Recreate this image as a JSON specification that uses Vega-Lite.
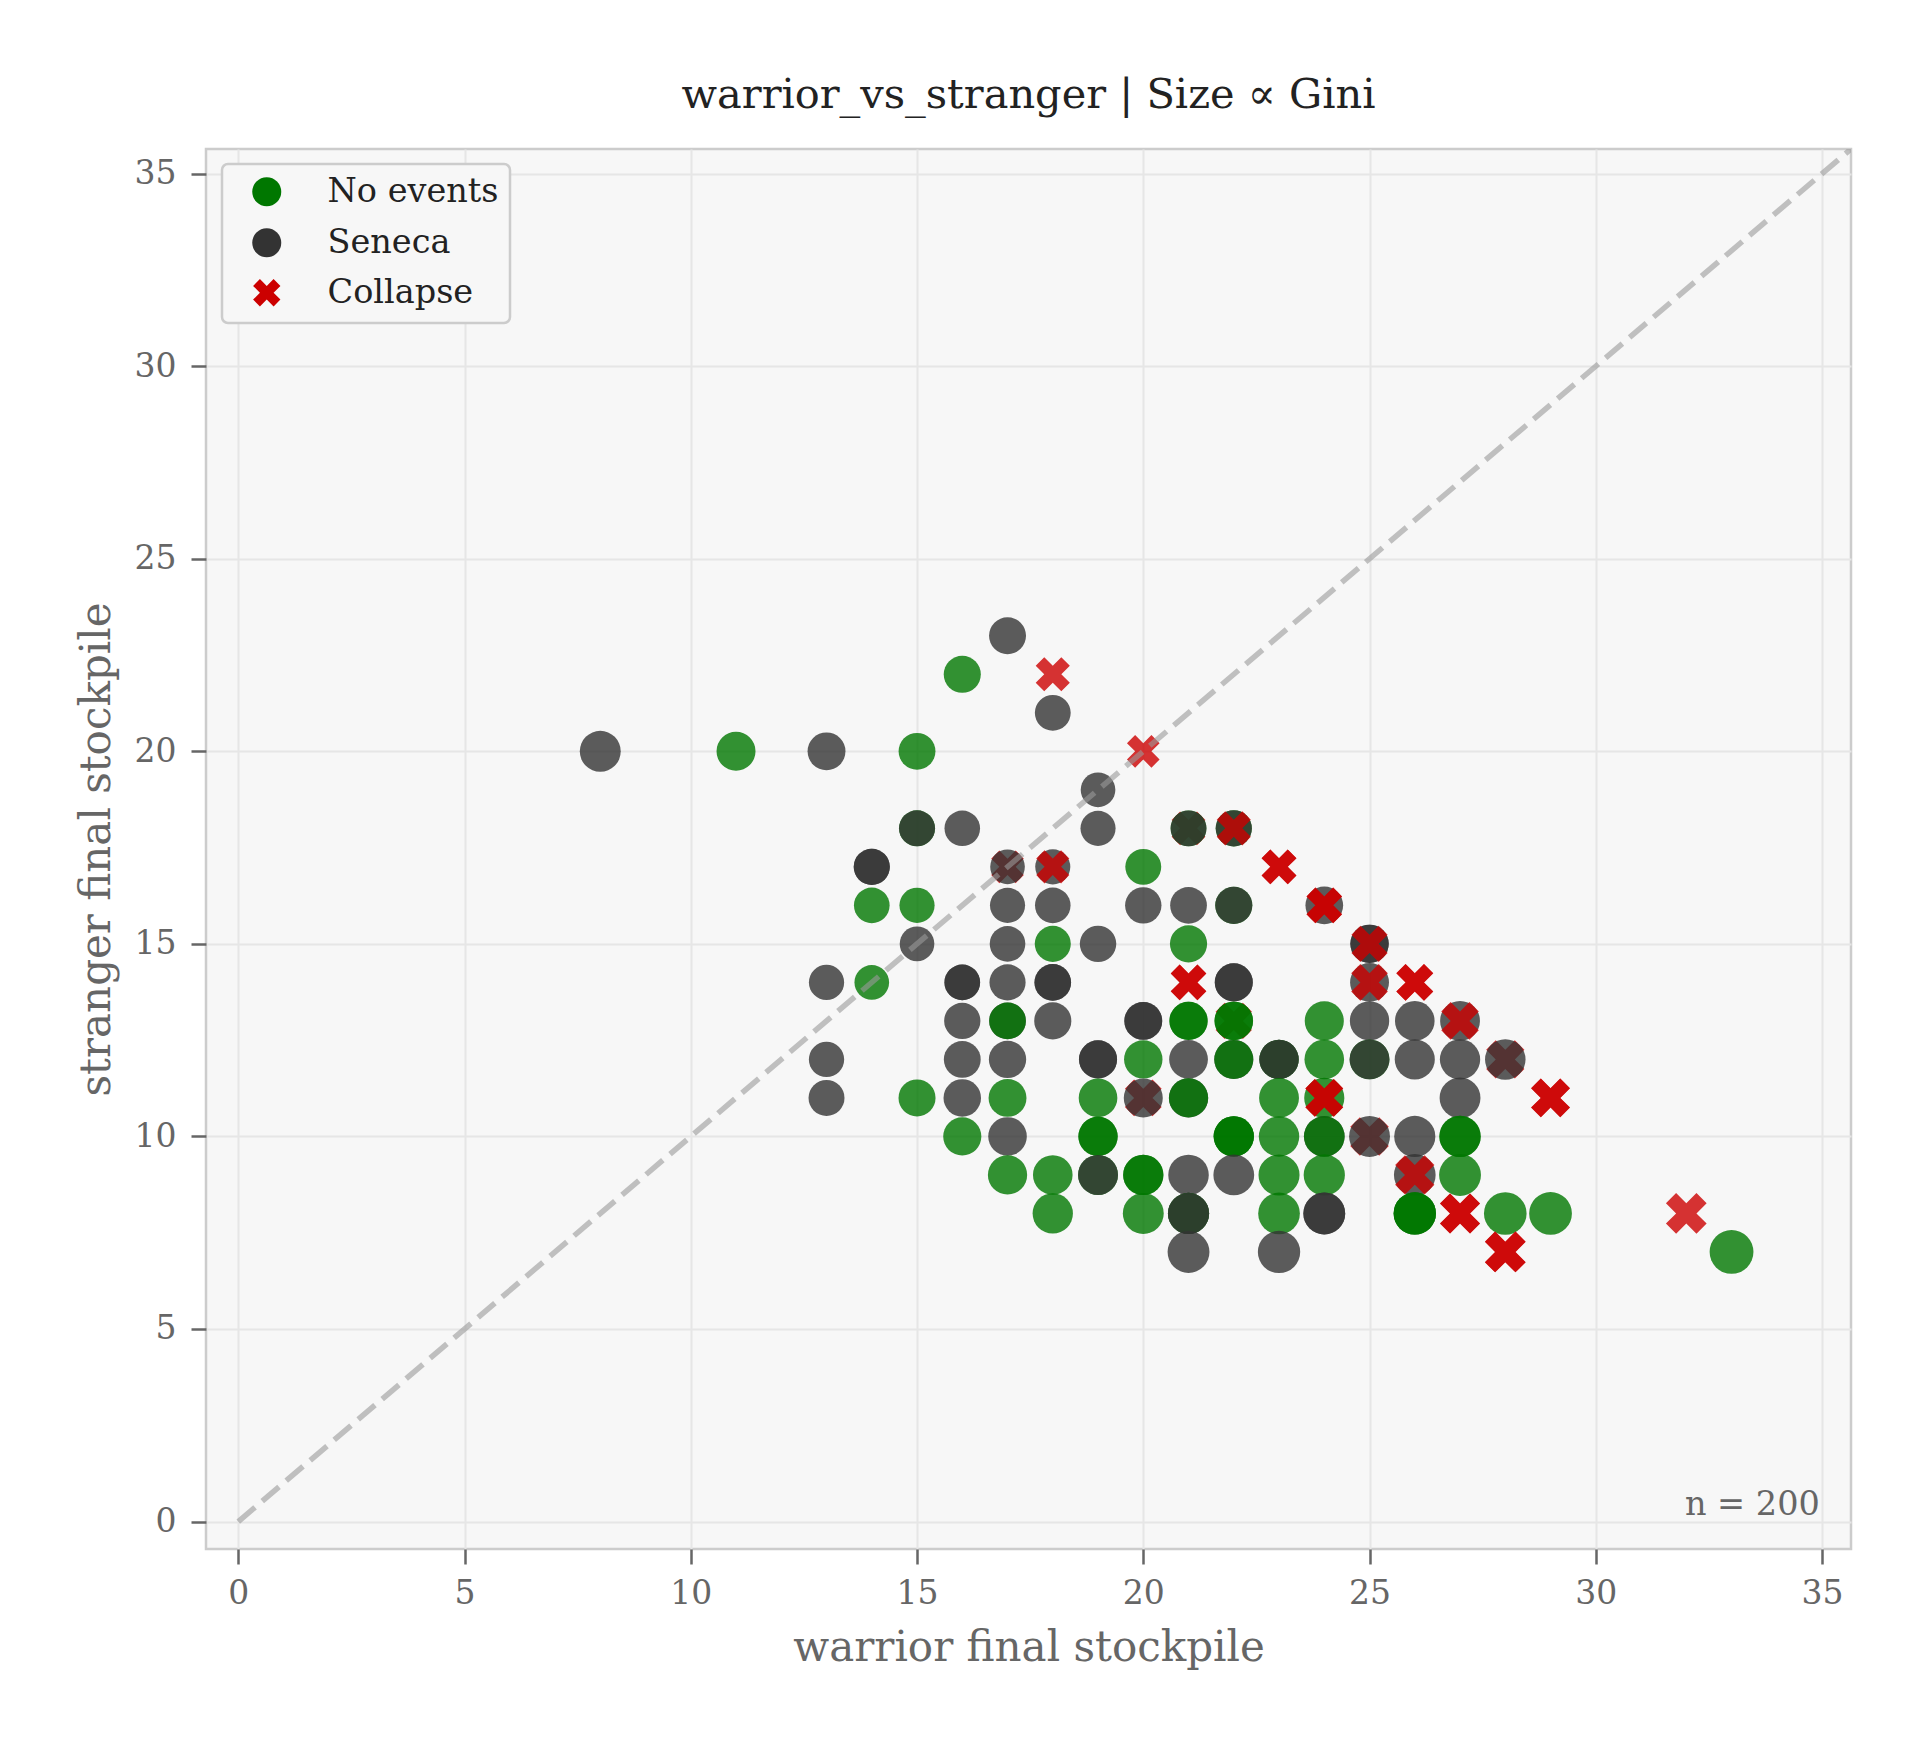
{
  "$schema": "https://vega.github.io/schema/vega-lite/v6.json",
  "autosize": {"type": "none"},
  "width": 1645,
  "height": 1400,
  "padding": {"left": 206, "top": 149, "right": 73, "bottom": 195},
  "background": "white",
  "title": {
    "text": "warrior_vs_stranger | Size ∝ Gini",
    "font": "DejaVu Serif", "fontSize": 41.5, "fontWeight": "normal", "color": "#222222",
    "anchor": "middle", "frame": "group", "baseline": "alphabetic", "offset": 0
  },
  "datasets": {
    "pts": [
      {"w": 8, "s": 20, "e": "Seneca", "g": 0.214},
      {"w": 11, "s": 20, "e": "No events", "g": 0.145},
      {"w": 13, "s": 20, "e": "Seneca", "g": 0.106},
      {"w": 15, "s": 20, "e": "No events", "g": 0.071},
      {"w": 16, "s": 22, "e": "No events", "g": 0.079},
      {"w": 17, "s": 23, "e": "Seneca", "g": 0.075},
      {"w": 18, "s": 22, "e": "Collapse", "g": 0.05},
      {"w": 18, "s": 21, "e": "Seneca", "g": 0.038},
      {"w": 20, "s": 20, "e": "Collapse", "g": 0.0},
      {"w": 19, "s": 19, "e": "Seneca", "g": 0.0},
      {"w": 15, "s": 18, "e": "No events", "g": 0.045},
      {"w": 15, "s": 18, "e": "Seneca", "g": 0.045},
      {"w": 16, "s": 18, "e": "Seneca", "g": 0.029},
      {"w": 19, "s": 18, "e": "Seneca", "g": 0.014},
      {"w": 21, "s": 18, "e": "Collapse", "g": 0.038},
      {"w": 21, "s": 18, "e": "No events", "g": 0.038},
      {"w": 21, "s": 18, "e": "Seneca", "g": 0.038},
      {"w": 22, "s": 18, "e": "No events", "g": 0.05},
      {"w": 22, "s": 18, "e": "Seneca", "g": 0.05},
      {"w": 22, "s": 18, "e": "Collapse", "g": 0.05},
      {"w": 14, "s": 17, "e": "Seneca", "g": 0.048},
      {"w": 14, "s": 17, "e": "Seneca", "g": 0.048},
      {"w": 17, "s": 17, "e": "Collapse", "g": 0.0},
      {"w": 17, "s": 17, "e": "Seneca", "g": 0.0},
      {"w": 18, "s": 17, "e": "Seneca", "g": 0.014},
      {"w": 18, "s": 17, "e": "Collapse", "g": 0.014},
      {"w": 20, "s": 17, "e": "No events", "g": 0.041},
      {"w": 23, "s": 17, "e": "Collapse", "g": 0.075},
      {"w": 23, "s": 17, "e": "Collapse", "g": 0.075},
      {"w": 14, "s": 16, "e": "No events", "g": 0.033},
      {"w": 15, "s": 16, "e": "No events", "g": 0.016},
      {"w": 17, "s": 16, "e": "Seneca", "g": 0.015},
      {"w": 18, "s": 16, "e": "Seneca", "g": 0.029},
      {"w": 20, "s": 16, "e": "Seneca", "g": 0.056},
      {"w": 21, "s": 16, "e": "Seneca", "g": 0.068},
      {"w": 22, "s": 16, "e": "No events", "g": 0.079},
      {"w": 22, "s": 16, "e": "Seneca", "g": 0.079},
      {"w": 24, "s": 16, "e": "Seneca", "g": 0.1},
      {"w": 24, "s": 16, "e": "Collapse", "g": 0.1},
      {"w": 24, "s": 16, "e": "Collapse", "g": 0.1},
      {"w": 15, "s": 15, "e": "Seneca", "g": 0.0},
      {"w": 17, "s": 15, "e": "Seneca", "g": 0.031},
      {"w": 18, "s": 15, "e": "No events", "g": 0.045},
      {"w": 19, "s": 15, "e": "Seneca", "g": 0.059},
      {"w": 21, "s": 15, "e": "No events", "g": 0.083},
      {"w": 25, "s": 15, "e": "Seneca", "g": 0.125},
      {"w": 25, "s": 15, "e": "Seneca", "g": 0.125},
      {"w": 25, "s": 15, "e": "Collapse", "g": 0.125},
      {"w": 13, "s": 14, "e": "Seneca", "g": 0.019},
      {"w": 14, "s": 14, "e": "No events", "g": 0.0},
      {"w": 16, "s": 14, "e": "Seneca", "g": 0.033},
      {"w": 16, "s": 14, "e": "Seneca", "g": 0.033},
      {"w": 17, "s": 14, "e": "Seneca", "g": 0.048},
      {"w": 18, "s": 14, "e": "Seneca", "g": 0.063},
      {"w": 18, "s": 14, "e": "Seneca", "g": 0.063},
      {"w": 21, "s": 14, "e": "Collapse", "g": 0.1},
      {"w": 21, "s": 14, "e": "Collapse", "g": 0.1},
      {"w": 22, "s": 14, "e": "Seneca", "g": 0.111},
      {"w": 22, "s": 14, "e": "Seneca", "g": 0.111},
      {"w": 25, "s": 14, "e": "Seneca", "g": 0.141},
      {"w": 25, "s": 14, "e": "Collapse", "g": 0.141},
      {"w": 26, "s": 14, "e": "Collapse", "g": 0.15},
      {"w": 26, "s": 14, "e": "Collapse", "g": 0.15},
      {"w": 16, "s": 13, "e": "Seneca", "g": 0.052},
      {"w": 17, "s": 13, "e": "Seneca", "g": 0.067},
      {"w": 17, "s": 13, "e": "No events", "g": 0.067},
      {"w": 18, "s": 13, "e": "Seneca", "g": 0.081},
      {"w": 20, "s": 13, "e": "Seneca", "g": 0.106},
      {"w": 20, "s": 13, "e": "Seneca", "g": 0.106},
      {"w": 21, "s": 13, "e": "No events", "g": 0.118},
      {"w": 21, "s": 13, "e": "No events", "g": 0.118},
      {"w": 22, "s": 13, "e": "Collapse", "g": 0.129},
      {"w": 22, "s": 13, "e": "No events", "g": 0.129},
      {"w": 22, "s": 13, "e": "No events", "g": 0.129},
      {"w": 24, "s": 13, "e": "No events", "g": 0.149},
      {"w": 25, "s": 13, "e": "Seneca", "g": 0.158},
      {"w": 26, "s": 13, "e": "Seneca", "g": 0.167},
      {"w": 27, "s": 13, "e": "Seneca", "g": 0.175},
      {"w": 27, "s": 13, "e": "Collapse", "g": 0.175},
      {"w": 13, "s": 12, "e": "Seneca", "g": 0.02},
      {"w": 16, "s": 12, "e": "Seneca", "g": 0.071},
      {"w": 17, "s": 12, "e": "Seneca", "g": 0.086},
      {"w": 19, "s": 12, "e": "Seneca", "g": 0.113},
      {"w": 19, "s": 12, "e": "Seneca", "g": 0.113},
      {"w": 20, "s": 12, "e": "No events", "g": 0.125},
      {"w": 21, "s": 12, "e": "Seneca", "g": 0.136},
      {"w": 22, "s": 12, "e": "Seneca", "g": 0.147},
      {"w": 22, "s": 12, "e": "No events", "g": 0.147},
      {"w": 23, "s": 12, "e": "Seneca", "g": 0.157},
      {"w": 23, "s": 12, "e": "No events", "g": 0.157},
      {"w": 23, "s": 12, "e": "Seneca", "g": 0.157},
      {"w": 24, "s": 12, "e": "No events", "g": 0.167},
      {"w": 25, "s": 12, "e": "No events", "g": 0.176},
      {"w": 25, "s": 12, "e": "Seneca", "g": 0.176},
      {"w": 26, "s": 12, "e": "Seneca", "g": 0.184},
      {"w": 27, "s": 12, "e": "Seneca", "g": 0.192},
      {"w": 28, "s": 12, "e": "Collapse", "g": 0.2},
      {"w": 28, "s": 12, "e": "Seneca", "g": 0.2},
      {"w": 13, "s": 11, "e": "Seneca", "g": 0.042},
      {"w": 15, "s": 11, "e": "No events", "g": 0.077},
      {"w": 16, "s": 11, "e": "Seneca", "g": 0.093},
      {"w": 17, "s": 11, "e": "No events", "g": 0.107},
      {"w": 19, "s": 11, "e": "No events", "g": 0.133},
      {"w": 20, "s": 11, "e": "Collapse", "g": 0.145},
      {"w": 20, "s": 11, "e": "Seneca", "g": 0.145},
      {"w": 21, "s": 11, "e": "Seneca", "g": 0.156},
      {"w": 21, "s": 11, "e": "No events", "g": 0.156},
      {"w": 23, "s": 11, "e": "No events", "g": 0.176},
      {"w": 24, "s": 11, "e": "No events", "g": 0.186},
      {"w": 24, "s": 11, "e": "Collapse", "g": 0.186},
      {"w": 24, "s": 11, "e": "Collapse", "g": 0.186},
      {"w": 27, "s": 11, "e": "Seneca", "g": 0.211},
      {"w": 29, "s": 11, "e": "Collapse", "g": 0.225},
      {"w": 29, "s": 11, "e": "Collapse", "g": 0.225},
      {"w": 16, "s": 10, "e": "No events", "g": 0.115},
      {"w": 17, "s": 10, "e": "Seneca", "g": 0.13},
      {"w": 19, "s": 10, "e": "No events", "g": 0.155},
      {"w": 19, "s": 10, "e": "No events", "g": 0.155},
      {"w": 22, "s": 10, "e": "No events", "g": 0.188},
      {"w": 22, "s": 10, "e": "No events", "g": 0.188},
      {"w": 22, "s": 10, "e": "No events", "g": 0.188},
      {"w": 23, "s": 10, "e": "No events", "g": 0.197},
      {"w": 24, "s": 10, "e": "Seneca", "g": 0.206},
      {"w": 24, "s": 10, "e": "No events", "g": 0.206},
      {"w": 25, "s": 10, "e": "Collapse", "g": 0.214},
      {"w": 25, "s": 10, "e": "Seneca", "g": 0.214},
      {"w": 26, "s": 10, "e": "Seneca", "g": 0.222},
      {"w": 27, "s": 10, "e": "No events", "g": 0.23},
      {"w": 27, "s": 10, "e": "No events", "g": 0.23},
      {"w": 17, "s": 9, "e": "No events", "g": 0.154},
      {"w": 18, "s": 9, "e": "No events", "g": 0.167},
      {"w": 19, "s": 9, "e": "No events", "g": 0.179},
      {"w": 19, "s": 9, "e": "Seneca", "g": 0.179},
      {"w": 20, "s": 9, "e": "No events", "g": 0.19},
      {"w": 20, "s": 9, "e": "No events", "g": 0.19},
      {"w": 21, "s": 9, "e": "Seneca", "g": 0.2},
      {"w": 22, "s": 9, "e": "Seneca", "g": 0.21},
      {"w": 23, "s": 9, "e": "No events", "g": 0.219},
      {"w": 24, "s": 9, "e": "No events", "g": 0.227},
      {"w": 26, "s": 9, "e": "Seneca", "g": 0.243},
      {"w": 26, "s": 9, "e": "Collapse", "g": 0.243},
      {"w": 27, "s": 9, "e": "No events", "g": 0.25},
      {"w": 18, "s": 8, "e": "No events", "g": 0.192},
      {"w": 20, "s": 8, "e": "No events", "g": 0.214},
      {"w": 21, "s": 8, "e": "Seneca", "g": 0.224},
      {"w": 21, "s": 8, "e": "No events", "g": 0.224},
      {"w": 21, "s": 8, "e": "Seneca", "g": 0.224},
      {"w": 23, "s": 8, "e": "No events", "g": 0.242},
      {"w": 24, "s": 8, "e": "Seneca", "g": 0.25},
      {"w": 24, "s": 8, "e": "Seneca", "g": 0.25},
      {"w": 26, "s": 8, "e": "No events", "g": 0.265},
      {"w": 26, "s": 8, "e": "No events", "g": 0.265},
      {"w": 26, "s": 8, "e": "No events", "g": 0.265},
      {"w": 27, "s": 8, "e": "Collapse", "g": 0.271},
      {"w": 27, "s": 8, "e": "Collapse", "g": 0.271},
      {"w": 28, "s": 8, "e": "No events", "g": 0.278},
      {"w": 29, "s": 8, "e": "No events", "g": 0.284},
      {"w": 32, "s": 8, "e": "Collapse", "g": 0.3},
      {"w": 21, "s": 7, "e": "Seneca", "g": 0.25},
      {"w": 23, "s": 7, "e": "Seneca", "g": 0.267},
      {"w": 28, "s": 7, "e": "Collapse", "g": 0.3},
      {"w": 28, "s": 7, "e": "Collapse", "g": 0.3},
      {"w": 33, "s": 7, "e": "No events", "g": 0.325}
    ],
    "diag": [
      {"w": 0, "s": 0},
      {"w": 35.64, "s": 35.64}
    ],
    "note": [
      {"w": 34.95, "s": 0.16, "t": "n = 200"}
    ]
  },
  "layer": [
    {
      "data": {"name": "pts"},
      "mark": {"type": "point", "filled": true, "opacity": 0.8, "strokeWidth": 0},
      "encoding": {
        "x": {
          "field": "w", "type": "quantitative",
          "scale": {"domain": [-0.713, 35.64], "nice": false, "zero": false},
          "axis": {"title": "warrior final stockpile", "values": [0, 5, 10, 15, 20, 25, 30, 35]}
        },
        "y": {
          "field": "s", "type": "quantitative",
          "scale": {"domain": [-0.713, 35.64], "nice": false, "zero": false},
          "axis": {"title": "stranger final stockpile", "values": [0, 5, 10, 15, 20, 25, 30, 35]}
        },
        "color": {
          "field": "e", "type": "nominal",
          "scale": {"domain": ["No events", "Seneca", "Collapse"], "range": ["#007700", "#333333", "#cc0000"]},
          "legend": {"title": null, "orient": "none", "legendX": 16, "legendY": 15}
        },
        "shape": {
          "field": "e", "type": "nominal",
          "scale": {
            "domain": ["No events", "Seneca", "Collapse"],
            "range": ["circle", "circle", "M0.471,-0.943L0.943,-0.471L0.471,0L0.943,0.471L0.471,0.943L0,0.471L-0.471,0.943L-0.943,0.471L-0.471,0L-0.943,-0.471L-0.471,-0.943L0,-0.471Z"]
          },
          "legend": {"title": null, "orient": "none", "legendX": 16, "legendY": 15}
        },
        "size": {
          "field": "g", "type": "quantitative",
          "scale": {"domain": [0, 0.33], "range": [1200, 1930]},
          "legend": null
        }
      }
    },
    {
      "data": {"name": "diag"},
      "mark": {"type": "line", "color": "#999999", "opacity": 0.6, "strokeWidth": 5.5, "strokeDash": [22, 9.5], "clip": true},
      "encoding": {
        "x": {"field": "w", "type": "quantitative"},
        "y": {"field": "s", "type": "quantitative"}
      }
    },
    {
      "data": {"name": "note"},
      "mark": {"type": "text", "align": "right", "baseline": "alphabetic", "font": "DejaVu Serif", "fontSize": 33.5, "color": "#666666"},
      "encoding": {
        "x": {"field": "w", "type": "quantitative"},
        "y": {"field": "s", "type": "quantitative"},
        "text": {"field": "t"}
      }
    }
  ],
  "config": {
    "view": {"fill": "#f7f7f7", "stroke": "#cccccc", "strokeWidth": 2.5},
    "axis": {
      "domain": false, "grid": true, "gridColor": "#e6e6e6", "gridWidth": 2,
      "tickColor": "#666666", "tickSize": 15, "tickWidth": 2.5,
      "labelFont": "DejaVu Serif", "labelFontSize": 33, "labelColor": "#666666",
      "labelFlush": false, "labelOverlap": false, "labelBound": false,
      "titleFont": "DejaVu Serif", "titleFontSize": 42, "titleColor": "#666666", "titleFontWeight": "normal"
    },
    "axisX": {"labelBaseline": "alphabetic", "labelPadding": 39, "titleBaseline": "alphabetic", "titleY": 111},
    "axisY": {"labelPadding": 15, "titleAngle": -90, "titleBaseline": "alphabetic", "titleX": -97, "titleY": 700, "titleAlign": "center"},
    "legend": {
      "padding": 11, "fillColor": "#f7f7f7", "strokeColor": "#cccccc", "strokeWidth": 2.5, "cornerRadius": 6,
      "labelFont": "DejaVu Serif", "labelFontSize": 33.5, "labelColor": "#222222", "labelLimit": 400,
      "symbolSize": 841, "symbolOffset": 17, "labelOffset": 44, "rowPadding": 11,
      "symbolOpacity": 1, "symbolStrokeColor": "white", "symbolStrokeWidth": 2.5
    }
  }
}
